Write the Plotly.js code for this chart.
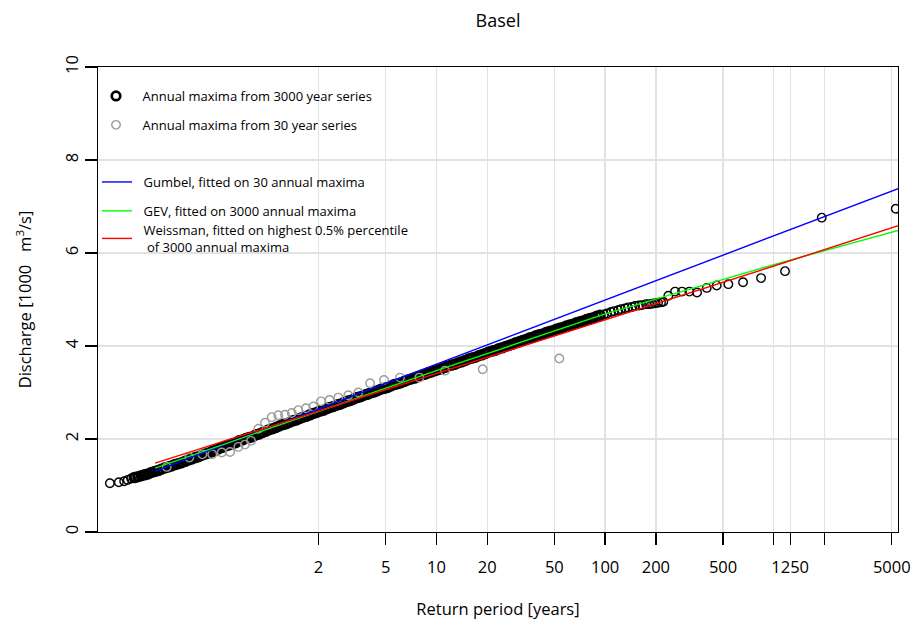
<!DOCTYPE html>
<html><head><meta charset="utf-8">
<script src="https://cdn.plot.ly/plotly-3.0.1.min.js"></script>
<style>html,body{margin:0;padding:0;background:#fff;} #chart{width:912px;height:620px;}</style>
</head><body><div id="chart"></div>
<script>
// Axis ticks
const periodTicks = [2, 5, 10, 20, 50, 100, 200, 500, 1250, 5000];
const periodTickLabels = ['2', '5', '10', '20', '50', '100', '200', '500', '1250', '5000'];
const periodMinorTicks = [1000, 2000];
const dischargeTicks = [0, 2, 4, 6, 8, 10];

// Annual maxima from 3000 year series (return period, discharge in 1000 m3/s)
const series3000Period = [
  0.116, 0.131, 0.141, 0.148, 0.155,
  0.162, 0.170, 0.178, 0.186, 0.195, 0.204, 0.214, 0.224, 0.234, 0.246,
  0.257, 0.269, 0.282, 0.295, 0.309, 0.324, 0.339, 0.355, 0.372, 0.389,
  0.407, 0.427, 0.447, 0.468, 0.490, 0.513, 0.537, 0.562, 0.589, 0.617,
  0.646, 0.676, 0.708, 0.741, 0.776, 0.813, 0.851, 0.891, 0.933, 0.977,
  1.02, 1.07, 1.12, 1.17, 1.23, 1.29, 1.35, 1.41, 1.48, 1.55,
  1.62, 1.70, 1.78, 1.86, 1.95, 2.04, 2.14, 2.24, 2.34, 2.45,
  2.57, 2.69, 2.82, 2.95, 3.09, 3.24, 3.39, 3.55, 3.72, 3.89,
  4.07, 4.27, 4.47, 4.68, 4.90, 5.13, 5.37, 5.62, 5.89, 6.17,
  6.46, 6.76, 7.08, 7.41, 7.76, 8.13, 8.51, 8.91, 9.33, 9.77,
  10.2, 10.7, 11.2, 11.7, 12.3, 12.9, 13.5, 14.1, 14.8, 15.5,
  16.2, 17.0, 17.8, 18.6, 19.5, 20.4, 21.4, 22.4, 23.4, 24.5,
  25.7, 26.9, 28.2, 29.5, 30.9, 32.4, 33.9, 35.5, 37.2, 38.9,
  40.7, 42.7, 44.7, 46.8, 49.0, 51.3, 53.7, 56.2, 58.9, 61.7,
  64.6, 67.6, 70.8, 74.1, 77.6, 81.3, 85.1, 89.1, 93.3,
  98.5, 102.6, 108.4, 112.9, 119.3, 124.3, 131.2, 136.7, 144.4, 150.4,
  158.9, 165.5, 174.8, 182.1, 189.7, 197.7, 205.9, 214.5,
  221.3, 236.9, 259.7, 285.6, 315.6, 350.6, 400.3, 458.6, 537.5, 656.8,
  839.8, 1165, 1923, 5280
];
const series3000Discharge = [
  1.05, 1.07, 1.09, 1.12, 1.15,
  1.17, 1.19, 1.21, 1.23, 1.25, 1.28, 1.30, 1.32, 1.35, 1.38,
  1.40, 1.42, 1.45, 1.47, 1.49, 1.52, 1.55, 1.57, 1.60, 1.62,
  1.65, 1.68, 1.70, 1.73, 1.76, 1.79, 1.82, 1.85, 1.87, 1.90,
  1.92, 1.96, 1.98, 2.01, 2.03, 2.05, 2.09, 2.11, 2.14, 2.17,
  2.20, 2.22, 2.25, 2.28, 2.31, 2.33, 2.36, 2.39, 2.41, 2.44,
  2.47, 2.49, 2.52, 2.55, 2.57, 2.60, 2.62, 2.65, 2.68, 2.70,
  2.73, 2.75, 2.78, 2.81, 2.83, 2.86, 2.89, 2.91, 2.94, 2.96,
  2.99, 3.01, 3.04, 3.07, 3.09, 3.11, 3.14, 3.17, 3.19, 3.21,
  3.24, 3.27, 3.29, 3.31, 3.34, 3.37, 3.39, 3.42, 3.44, 3.47,
  3.49, 3.51, 3.54, 3.57, 3.59, 3.61, 3.64, 3.66, 3.69, 3.72,
  3.74, 3.76, 3.79, 3.81, 3.84, 3.87, 3.89, 3.91, 3.94, 3.96,
  3.99, 4.01, 4.04, 4.07, 4.09, 4.12, 4.14, 4.17, 4.19, 4.22,
  4.24, 4.26, 4.29, 4.31, 4.33, 4.36, 4.38, 4.40, 4.43, 4.45,
  4.47, 4.50, 4.52, 4.54, 4.57, 4.59, 4.61, 4.64, 4.66,
  4.68, 4.70, 4.73, 4.75, 4.77, 4.79, 4.81, 4.83, 4.84, 4.86,
  4.87, 4.88, 4.90, 4.90, 4.91, 4.92, 4.93, 4.94,
  4.95, 5.08, 5.17, 5.17, 5.17, 5.15, 5.25, 5.30, 5.33, 5.37,
  5.46, 5.61, 6.76, 6.95
];

// Annual maxima from 30 year series
const series30Period = [
  0.252, 0.343, 0.410, 0.469, 0.534, 0.598, 0.669, 0.733, 0.796, 0.880,
  0.964, 1.056, 1.155, 1.266, 1.388, 1.518, 1.687, 1.863, 2.070, 2.325,
  2.621, 3.004, 3.444, 4.041, 4.892, 6.084, 7.917, 11.25, 18.81, 53.52
];
const series30Discharge = [
  1.40, 1.60, 1.67, 1.67, 1.71, 1.72, 1.83, 1.88, 1.96, 2.22,
  2.35, 2.47, 2.51, 2.52, 2.56, 2.62, 2.66, 2.70, 2.81, 2.84,
  2.89, 2.94, 3.00, 3.20, 3.27, 3.32, 3.32, 3.47, 3.50, 3.73
];

// Fitted distributions
const fitPeriod = [0.215, 1, 10, 100, 1000, 5500];
const gumbelDischarge = [1.31, 2.23, 3.61, 4.99, 6.36, 7.39];
const gevDischarge = [1.375, 2.21, 3.47, 4.69, 5.75, 6.49];
const weissmanDischarge = [1.48, 2.25, 3.41, 4.57, 5.72, 6.59];

// ---- layout helpers (pixel -> paper) ----
const W = 912, H = 620;
const M = {l: 98, r: 14, t: 67, b: 88};
const PW = W - M.l - M.r, PH = H - M.t - M.b;
const px = p => (p - M.l) / PW;
const py = p => (H - M.b - p) / PH;

const FONT = 'Open Sans, Noto Sans, DejaVu Sans, sans-serif';
const GRID = '#e2e2e2';
const GAP = '\u2002';  // spacing between legend symbol and label

// dense part of the 3000-year cloud drawn with heavier rings so it reads as a solid band
const ringWidths = series3000Period.map(t => (t > 0.16 && t < 95) ? 3.0 : 1.4);

const traces = [
  {
    type: 'scatter', mode: 'markers',
    x: series3000Period, y: series3000Discharge,
    name: GAP + 'Annual maxima from 3000 year series',
    marker: {symbol: 'circle-open', size: 8.5, color: '#000000', line: {width: ringWidths}},
    legend: 'legend', legendgroup: 'a'
  },
  {
    type: 'scatter', mode: 'markers',
    x: series30Period, y: series30Discharge,
    name: GAP + 'Annual maxima from 30 year series',
    marker: {symbol: 'circle-open', size: 8.5, color: '#9c9c9c', line: {width: 1.4}},
    legend: 'legend', legendgroup: 'b'
  },
  {
    type: 'scatter', mode: 'lines',
    x: fitPeriod, y: gumbelDischarge,
    name: GAP + 'Gumbel, fitted on 30 annual maxima',
    line: {color: '#0000ff', width: 1.4},
    legend: 'legend2', legendgroup: 'c'
  },
  {
    type: 'scatter', mode: 'lines',
    x: fitPeriod, y: gevDischarge,
    name: GAP + 'GEV, fitted on 3000 annual maxima',
    line: {color: '#00ff00', width: 1.4},
    legend: 'legend2', legendgroup: 'd'
  },
  {
    type: 'scatter', mode: 'lines',
    x: fitPeriod, y: weissmanDischarge,
    name: GAP + 'Weissman, fitted on highest 0.5% percentile<br>' + GAP + '\u00a0of 3000 annual maxima',
    line: {color: '#ff0000', width: 1.4},
    legend: 'legend3', legendgroup: 'e'
  }
];

const legendBase = {
  xanchor: 'left', yanchor: 'top', bgcolor: 'rgba(0,0,0,0)', borderwidth: 0,
  font: {family: FONT, size: 13, color: '#000'}, tracegroupgap: 9, itemwidth: 30,
  traceorder: 'grouped'
};

const layout = {
  width: W, height: H,
  margin: M,
  paper_bgcolor: '#ffffff', plot_bgcolor: '#ffffff',
  font: {family: FONT, color: '#000'},
  title: {text: 'Basel', font: {family: FONT, size: 18, color: '#000'},
          x: 0.5, xref: 'paper', xanchor: 'center', y: 1 - 21 / H, yref: 'container', yanchor: 'middle'},
  showlegend: true,
  legend: Object.assign({}, legendBase, {x: px(96), y: py(81)}),
  legend2: Object.assign({}, legendBase, {x: px(97), y: py(167)}),
  legend3: Object.assign({}, legendBase, {x: px(97), y: py(215)}),
  xaxis: {
    type: 'log', range: [-1.006, 3.736],
    tickmode: 'array', tickvals: periodTicks, ticktext: periodTickLabels,
    ticks: 'outside', ticklen: 12, tickwidth: 1.3, tickcolor: '#000', ticklabelstandoff: 8,
    minor: {tickmode: 'array', tickvals: periodMinorTicks, ticks: 'outside', ticklen: 12, tickwidth: 1.3,
            tickcolor: '#000', showgrid: true, gridcolor: GRID, gridwidth: 1.3},
    showline: true, linecolor: '#000', linewidth: 1.3, mirror: true,
    showgrid: true, gridcolor: GRID, gridwidth: 1.3, zeroline: false,
    tickfont: {family: FONT, size: 16.5, color: '#000'},
    title: {text: 'Return period [years]', font: {family: FONT, size: 16.5, color: '#000'}, standoff: 30},
    automargin: false
  },
  yaxis: {
    range: [0, 10],
    tickmode: 'array', tickvals: dischargeTicks,
    tickangle: -90,
    ticks: 'outside', ticklen: 12, tickwidth: 1.3, tickcolor: '#000',
    showline: true, linecolor: '#000', linewidth: 1.3, mirror: true,
    showgrid: true, gridcolor: GRID, gridwidth: 1.3, zeroline: false,
    tickfont: {family: FONT, size: 16.5, color: '#000'},
    title: {text: 'Discharge [1000\u00a0\u00a0\u00a0m<sup>3</sup>/s]', font: {family: FONT, size: 16.5, color: '#000'}, standoff: 24},
    automargin: false
  }
};

Plotly.newPlot('chart', traces, layout, {displayModeBar: false, staticPlot: true});
</script>
</body></html>
